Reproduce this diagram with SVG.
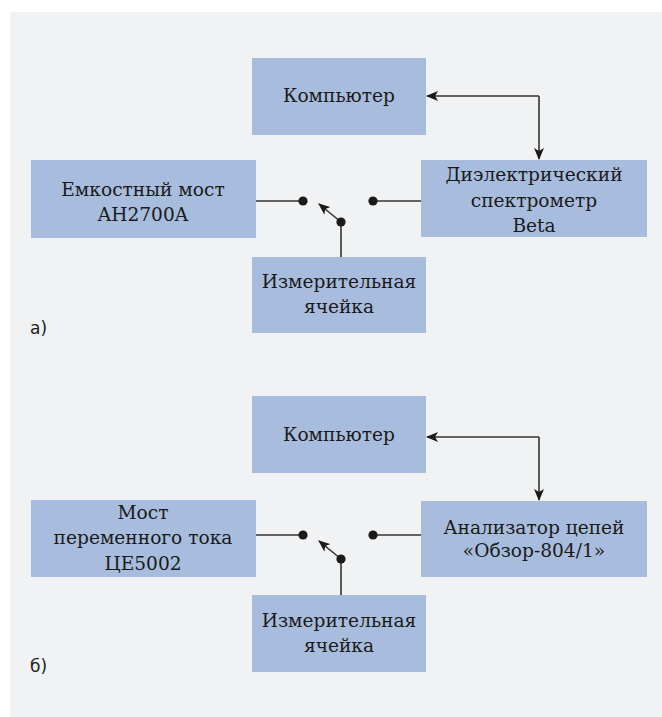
<svg xmlns="http://www.w3.org/2000/svg" width="662" height="717" viewBox="0 0 662 717">
<defs>
<style>
.bg{fill:#f1f2f4}
.box{fill:#a8bddd}
.t{font-family:"DejaVu Serif","Liberation Serif",serif;font-size:18.6px;fill:#1a1a1a;text-anchor:middle}
.lbl{font-family:"DejaVu Sans","Liberation Sans",sans-serif;font-size:17px;fill:#222}
.ln{stroke:#333;stroke-width:1.6;fill:none}
.dot{fill:#1a1a1a}
</style>
<marker id="ah" viewBox="0 0 12 10" refX="11" refY="5" markerWidth="12" markerHeight="10" markerUnits="userSpaceOnUse" orient="auto">
<path d="M0,0 L12,5 L0,10 L3,5 Z" fill="#1a1a1a"/>
</marker>
</defs>
<rect class="bg" x="10" y="12" width="652" height="705"/>

<g id="a-computer"><rect class="box" x="252" y="58" width="174" height="77"/><text class="t" x="339" y="102">Компьютер</text></g>
<g id="a-spectrometer"><rect class="box" x="421" y="160" width="226" height="77"/><text class="t" x="534" y="181">Диэлектрический</text><text class="t" x="534" y="207">спектрометр</text><text class="t" x="534" y="232">Beta</text></g>
<g id="a-bridge"><rect class="box" x="31" y="160" width="225" height="78"/><text class="t" x="143" y="196">Емкостный мост</text><text class="t" x="143" y="221">AH2700A</text></g>
<g id="a-cell"><rect class="box" x="252" y="257" width="174" height="76"/><text class="t" x="339" y="288">Измерительная</text><text class="t" x="339" y="313">ячейка</text></g>
<text class="lbl" x="30" y="334">а)</text>

<g id="b-computer"><rect class="box" x="252" y="396" width="174" height="77"/><text class="t" x="339" y="441">Компьютер</text></g>
<g id="b-analyzer"><rect class="box" x="421" y="501" width="226" height="76"/><text class="t" x="534" y="534">Анализатор цепей</text><text class="t" x="534" y="557">«Обзор-804/1»</text></g>
<g id="b-bridge"><rect class="box" x="31" y="500" width="225" height="77"/><text class="t" x="143" y="519">Мост</text><text class="t" x="143" y="544">переменного тока</text><text class="t" x="143" y="570">ЦЕ5002</text></g>
<g id="b-cell"><rect class="box" x="252" y="595" width="174" height="77"/><text class="t" x="339" y="627">Измерительная</text><text class="t" x="339" y="652">ячейка</text></g>
<text class="lbl" x="30" y="672">б)</text>

<g id="connectors">
<path class="ln" d="M539,96 H427" marker-end="url(#ah)"/>
<path class="ln" d="M539,96 V159" marker-end="url(#ah)"/>
<path class="ln" d="M256,201 H303"/>
<path class="ln" d="M373,201 H421"/>
<path class="ln" d="M341,222 V257"/>
<path class="ln" d="M341,222 L319,204" marker-end="url(#ah)"/>
<circle class="dot" cx="303" cy="201" r="4.6"/>
<circle class="dot" cx="373" cy="201" r="4.6"/>
<circle class="dot" cx="341" cy="222" r="4.6"/>

<path class="ln" d="M539,437 H427" marker-end="url(#ah)"/>
<path class="ln" d="M539,437 V500" marker-end="url(#ah)"/>
<path class="ln" d="M256,535 H303"/>
<path class="ln" d="M373,535 H421"/>
<path class="ln" d="M341,559 V595"/>
<path class="ln" d="M341,559 L319,541" marker-end="url(#ah)"/>
<circle class="dot" cx="303" cy="535" r="4.6"/>
<circle class="dot" cx="373" cy="535" r="4.6"/>
<circle class="dot" cx="341" cy="559" r="4.6"/>
</g>
</svg>
